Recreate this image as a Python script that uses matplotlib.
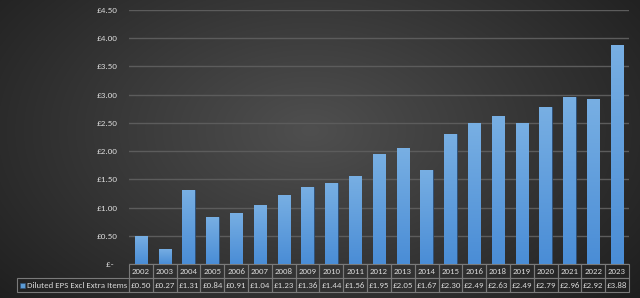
import matplotlib
import matplotlib.pyplot as plt
import numpy as np
from matplotlib.colors import LinearSegmentedColormap
from matplotlib.patches import Rectangle

matplotlib.use("Agg")

years = ["2002", "2003", "2004", "2005", "2006", "2007", "2008", "2009", "2010", "2011",
         "2012", "2013", "2014", "2015", "2016", "2018", "2019", "2020", "2021", "2022", "2023"]
eps = [0.50, 0.27, 1.31, 0.84, 0.91, 1.04, 1.23, 1.36, 1.44, 1.56,
       1.95, 2.05, 1.67, 2.30, 2.49, 2.63, 2.49, 2.79, 2.96, 2.92, 3.88]
series_name = "Diluted EPS Excl Extra Items"
y_ticks = [0, 0.5, 1.0, 1.5, 2.0, 2.5, 3.0, 3.5, 4.0, 4.5]

text_color = "#d8d8d8"
grid_color = "#5c5c5c"
cell_edge = "#7a7a7a"
plt.rcParams["font.family"] = ["Carlito", "DejaVu Sans"]

fig = plt.figure(figsize=(6.4, 2.98), dpi=100)

# radial dark background
bg = fig.add_axes([0, 0, 1, 1], zorder=-10)
yy, xx = np.mgrid[0:298, 0:640]
r = np.sqrt(((xx - 310) / 420.0) ** 2 + ((yy - 130) / 260.0) ** 2)
shade = np.clip(0.31 - 0.19 * r, 0.10, 0.31)
bg.imshow(np.dstack([shade] * 3), aspect="auto", extent=[0, 1, 0, 1])
bg.axis("off")

ax = fig.add_axes([129 / 640, 34 / 298, 500 / 640, 254 / 298])
ax.patch.set_alpha(0)
x = np.arange(len(years))
bars = ax.bar(x, eps, width=0.52, color="#5b9bd5", edgecolor="#2d4f78", linewidth=0.6, zorder=3)

bar_cmap = LinearSegmentedColormap.from_list("barfill", ["#4a8dd6", "#78afe3"])
grad = np.linspace(0, 1, 64).reshape(-1, 1)
for bar in bars:
    bx, bw, bh = bar.get_x(), bar.get_width(), bar.get_height()
    im = ax.imshow(grad, cmap=bar_cmap, origin="lower", aspect="auto",
                   extent=[bx, bx + bw, 0, bh], zorder=3.5)
    im.set_clip_path(bar)

ax.set_xlim(-0.5, len(years) - 0.5)
ax.set_ylim(0, 4.5)
ax.set_yticks(y_ticks)
ax.set_yticklabels(["£-  " if v == 0 else f"£{v:.2f}" for v in y_ticks])
ax.tick_params(axis="y", length=0, pad=8, labelsize=6.6, labelcolor=text_color)
ax.set_xticks([])
ax.yaxis.grid(True, color=grid_color, linewidth=1.0, zorder=0)
for s in ax.spines.values():
    s.set_visible(False)

# data table: first column holds the series label
label_w = 112 / 500
tab_h = 28 / 254
n = len(years)
table = ax.table(
    cellText=[[series_name] + [f"£{v:.2f}" for v in eps]],
    colLabels=[""] + years,
    colWidths=[label_w] + [1 / n] * n,
    cellLoc="center",
    bbox=[-label_w, -tab_h, 1 + label_w, tab_h],
)
table.auto_set_font_size(False)
for (row, col), cell in table.get_celld().items():
    cell.set_facecolor("none")
    cell.set_edgecolor(cell_edge)
    cell.set_linewidth(0.8)
    cell.get_text().set_color(text_color)
    cell.get_text().set_fontsize(6.4)
    cell.PAD = 0.02
    if col == 0:
        if row == 0:
            cell.visible_edges = ""
        else:
            cell.get_text().set_horizontalalignment("left")
            cell.PAD = 0.085

# legend key inside the label cell
fig.patches.append(Rectangle((20 / 640, (298 - 288) / 298), 5 / 640, 5 / 298,
                             transform=fig.transFigure, facecolor="#5b9bd5",
                             edgecolor="#2d4f78", linewidth=0.4))

fig.savefig("out.png", dpi=100)
